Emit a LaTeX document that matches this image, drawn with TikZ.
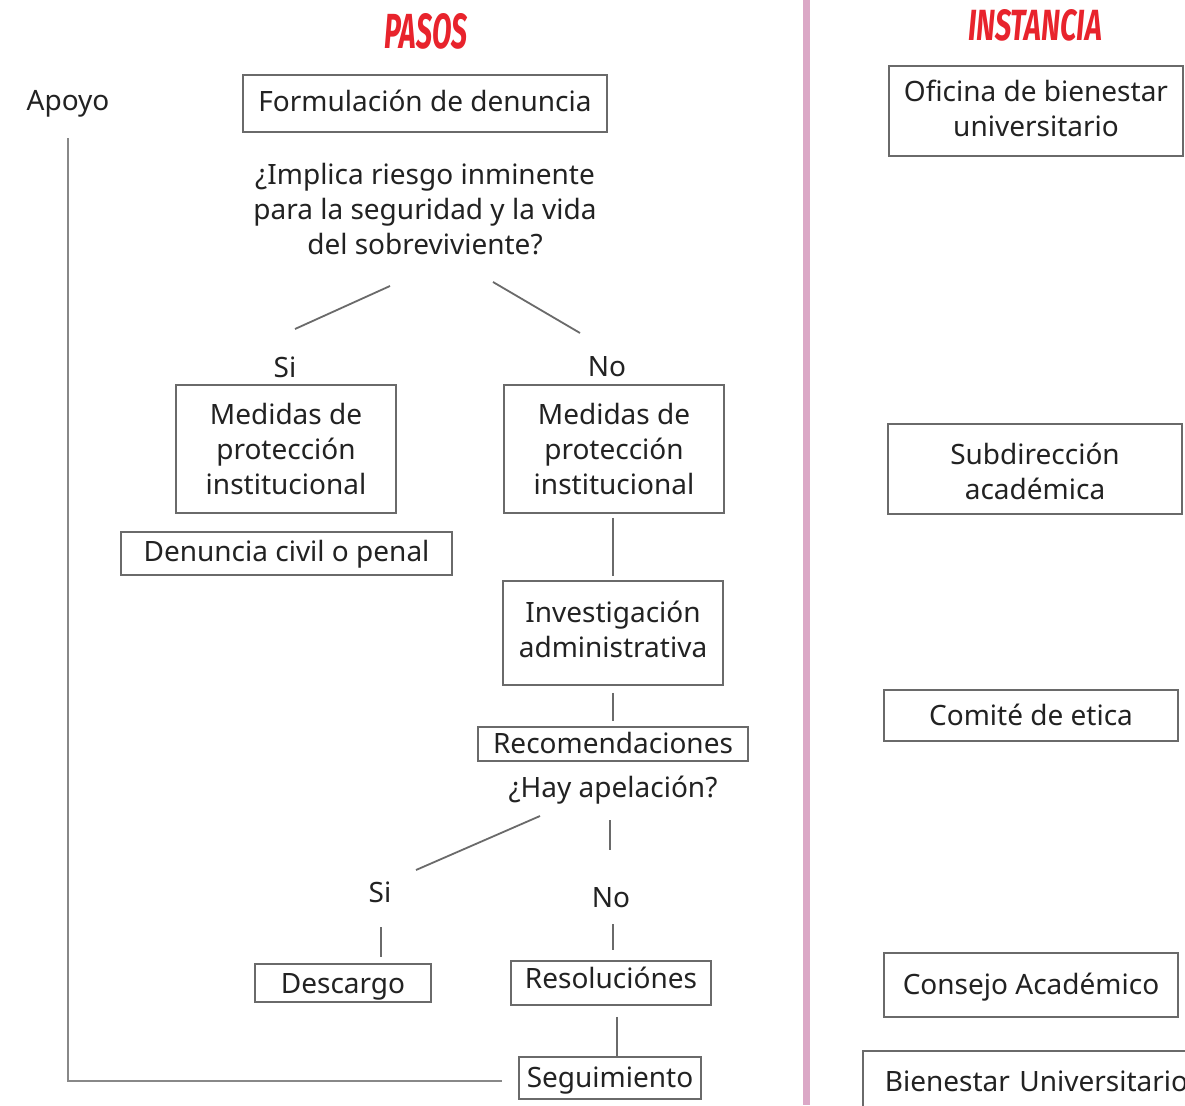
\documentclass[tikz,border=0pt]{standalone}
\usepackage{fontspec}
\setmainfont{Noto Sans}
\newfontfamily\titlefont{Fira Sans}
\definecolor{txt}{HTML}{222222}
\definecolor{edge}{HTML}{6A6A6A}
\definecolor{titlered}{HTML}{E8232C}
\definecolor{divpink}{HTML}{DBA8C6}
\newcommand{\mlines}[3]{\raisebox{#1}[0pt][0pt]{\parbox{#2}{\centering #3}}}
\begin{document}
\begin{tikzpicture}[x=1pt,y=-1pt,
  every node/.style={text=txt, font=\fontsize{28}{35}\selectfont},
  box/.style={draw=edge, line width=1.8pt, inner sep=0pt, align=center, text height=20pt, text depth=0pt},
  mbox/.style={draw=edge, line width=1.8pt, inner sep=0pt},
  lbl/.style={inner sep=0pt, align=center},
  conn/.style={draw=edge, line width=1.8pt},
  ttl/.style={inner sep=0pt, text=titlered}]
\clip (0,0) rectangle (1185,1105);
\fill[white] (0,0) rectangle (1185,1105);
% titles
\node[ttl] (pasos) at (426,31) {\resizebox{83pt}{35pt}{\titlefont\bfseries\itshape PASOS}};
\node[ttl] (instancia) at (1035,25) {\resizebox{134pt}{31pt}{\titlefont\bfseries\itshape INSTANCIA}};
% divider
\draw[divpink, line width=7pt] (806,0) -- (806,1105);
% left column
\node[lbl] (apoyo) at (68,104) {Apoyo};
\node[box, minimum width=364pt, minimum height=57pt] (form) at (425,103.5) {\raisebox{2pt}{Formulación de denuncia}};
\node[lbl] (preg) at (425,209) {¿Implica riesgo inminente\\para la seguridad y la vida\\del sobreviviente?};
\node[lbl] (si1) at (285,367) {Si};
\node[lbl] (no1) at (607,367) {No};
\node[mbox, minimum width=220pt, minimum height=128pt] (medsi) at (286,449) {\mlines{-6pt}{216pt}{Medidas de\\protección\\institucional}};
\node[mbox, minimum width=220pt, minimum height=128pt] (medno) at (614,449) {\mlines{-6pt}{216pt}{Medidas de\\protección\\institucional}};
\node[box, minimum width=331pt, minimum height=43pt] (denun) at (286.5,553.5) {\raisebox{2pt}{Denuncia civil o penal}};
\node[mbox, minimum width=220pt, minimum height=104pt] (inv) at (613,633) {\mlines{-3pt}{216pt}{Investigación\\administrativa}};
\node[box, minimum width=270pt, minimum height=34pt] (rec) at (613,744) {\raisebox{1pt}{Recomendaciones}};
\node[lbl] (hay) at (613,790) {¿Hay apelación?};
\node[lbl] (si2) at (380,892) {Si};
\node[lbl] (no2) at (611,898) {No};
\node[box, minimum width=176pt, minimum height=38pt] (desc) at (343,983) {Descargo};
\node[box, minimum width=200pt, minimum height=44pt] (reso) at (611,983) {\raisebox{4.5pt}{Resoluciónes}};
\node[box, minimum width=182pt, minimum height=42pt] (seg) at (610,1078) {\raisebox{0.5pt}{Seguimiento}};
% right column
\node[mbox, minimum width=294pt, minimum height=90pt] (ofi) at (1036,111) {\mlines{-3.5pt}{290pt}{Oficina de bienestar\\universitario}};
\node[mbox, minimum width=294pt, minimum height=90pt] (sub) at (1035,469) {\mlines{-9pt}{290pt}{Subdirección\\académica}};
\node[box, minimum width=294pt, minimum height=51pt] (com) at (1031,715.5) {Comité de etica};
\node[box, minimum width=294pt, minimum height=64pt] (con) at (1031,985) {\raisebox{0.5pt}{Consejo Académico}};
\node[box, anchor=north west, minimum width=360pt, minimum height=80pt, text width=338pt, inner xsep=22pt, align=left] (bien) at (862,1050) {\raisebox{9.5pt}{Bienestar Universitario}};
% connector end points
\coordinate (q1) at (390,286);
\coordinate (q1b) at (295,329);
\coordinate (q2) at (493,282);
\coordinate (q2b) at (580,333);
\coordinate (h1) at (540,816);
\coordinate (h1b) at (416,870);
\coordinate (h2) at (610,820);
\coordinate (h2b) at (610,850);
\coordinate (s2) at (381,927);
\coordinate (n2) at (613,924);
\coordinate (apoyoend) at (502,1081);
% connectors
\draw[conn] (q1) -- (q1b);
\draw[conn] (q2) -- (q2b);
\draw[conn, shorten <=4pt, shorten >=4pt] (medno.south -| inv.north) -- (inv.north);
\draw[conn, shorten <=7pt, shorten >=5pt] (inv.south) -- (rec.north);
\draw[conn] (h1) -- (h1b);
\draw[conn] (h2) -- (h2b);
\draw[conn, shorten >=6pt] (s2) -- (s2 |- desc.north);
\draw[conn, shorten >=10pt] (n2) -- (n2 |- reso.north);
\draw[conn, shorten <=11pt] (reso.south -| 617,0) -- (seg.north -| 617,0);
\draw[conn, line width=1.3pt, draw=edge!80] (apoyo.south |- 0,138) |- (apoyoend);
\end{tikzpicture}
\end{document}
